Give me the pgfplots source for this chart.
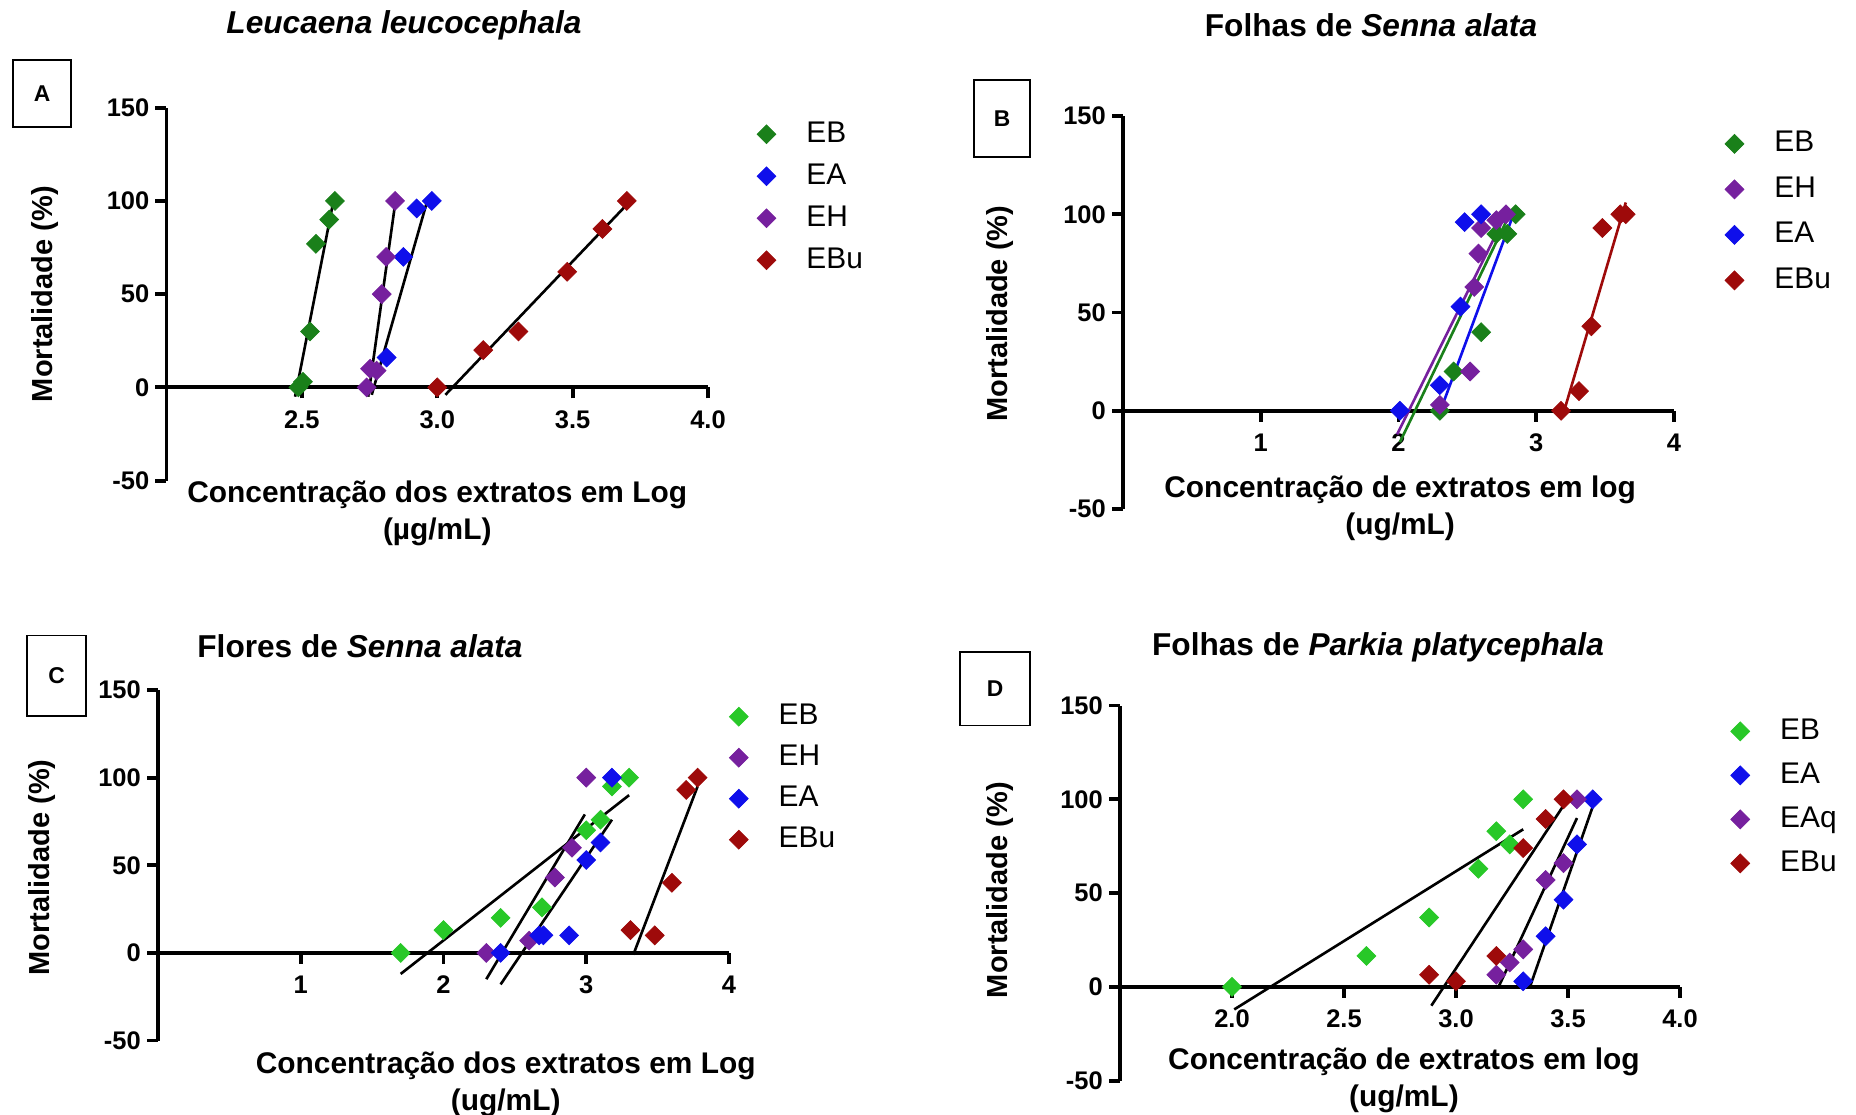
\documentclass[border=0pt]{standalone}
\usepackage{fontspec}
\setmainfont{Liberation Sans}
\usepackage{pgfplots}
\pgfplotsset{compat=1.18}

\definecolor{dgreen}{RGB}{26,128,26}
\definecolor{lgreen}{RGB}{40,200,40}
\definecolor{eblue}{RGB}{15,15,235}
\definecolor{epurple}{RGB}{118,32,158}
\definecolor{dred}{RGB}{158,10,10}

\pgfplotsset{
  gp/.style={
    scale only axis, clip=false,
    axis x line*=middle, axis y line*=left,
    ymin=-50, ymax=150, ytick={-50,0,50,100,150},
    yticklabels={-50,0,50,100,150},
    tick align=outside, major tick length=2.2mm,
    axis line style={line width=2.2pt},
    major tick style={line width=2.2pt, black},
    tick label style={font=\fontsize{14.5}{16}\selectfont\bfseries},
    xticklabel style={yshift=-1.2mm},
    xlabel style={font=\fontsize{17}{21}\selectfont\bfseries, align=center, anchor=north},
    ylabel style={font=\fontsize{16.5}{18}\selectfont\bfseries, anchor=center},
    legend cell align=left,
    legend style={draw=none, fill=none, anchor=north west, inner sep=0pt,
      column sep=5.6mm, font=\fontsize{17}{19}\selectfont,
      nodes={inner sep=0.5mm, text height=4.4mm, text depth=1.2mm}},
  },
  mk/.style={only marks, mark=square*, mark size=3.8pt, color=#1,
    mark options={rotate=45, solid, fill=#1, draw=#1}},
  reg/.style={no marks, line width=1.5pt, color=#1, forget plot},
}

\begin{document}
\begin{tikzpicture}
\path[use as bounding box] (0,0) rectangle (371.2mm,-222.8mm);

% titles
\node[font=\fontsize{18}{20}\selectfont\bfseries\itshape] at (80.8mm,-5mm) {Leucaena leucocephala};
\node[font=\fontsize{18}{20}\selectfont\bfseries] at (274.2mm,-5mm) {Folhas de \textit{Senna alata}};
\node[font=\fontsize{18}{20}\selectfont\bfseries] at (72mm,-129.2mm) {Flores de \textit{Senna alata}};
\node[font=\fontsize{18}{20}\selectfont\bfseries] at (275.6mm,-129.4mm) {Folhas de \textit{Parkia platycephala}};

% panel letters
\draw[line width=0.9pt] (2.6mm,-12mm) rectangle (14.2mm,-25.4mm);
\node[font=\fontsize{13}{15}\selectfont\bfseries] at (8.4mm,-18.7mm) {A};
\draw[line width=0.9pt] (194.8mm,-16mm) rectangle (206mm,-31.4mm);
\node[font=\fontsize{13}{15}\selectfont\bfseries] at (200.4mm,-23.7mm) {B};
\draw[line width=0.9pt] (5.4mm,-127.1mm) rectangle (17.2mm,-143.2mm);
\node[font=\fontsize{13}{15}\selectfont\bfseries] at (11.3mm,-135.1mm) {C};
\draw[line width=0.9pt] (192mm,-130.4mm) rectangle (206mm,-145.1mm);
\node[font=\fontsize{13}{15}\selectfont\bfseries] at (199mm,-137.7mm) {D};

% A: Leucaena leucocephala
\begin{axis}[gp, at={(33.3mm,-96.12mm)}, anchor=south west,
  width=108.3mm, height=74.58mm, xmin=2, xmax=4,
  xtick={2.5,3,3.5,4}, xticklabels={2.5,3.0,3.5,4.0},
  xlabel={Concentração dos extratos em Log\\(µg/mL)},
  ylabel={Mortalidade (\%)},
  xlabel style={at={(axis description cs:0.5,0.017)}},
  ylabel style={at={(axis description cs:-0.224,0.5)}},
  legend style={at={(axis description cs:1.09,0.974)}, row sep=1.8mm}]
\addplot[mk=dgreen] coordinates {(2.487,0) (2.504,3) (2.530,30) (2.552,77) (2.601,90) (2.622,100)};
\addplot[mk=eblue] coordinates {(2.813,16) (2.875,70) (2.924,96) (2.980,100)};
\addplot[mk=epurple] coordinates {(2.739,0) (2.752,10) (2.776,9) (2.795,50) (2.811,70) (2.844,100)};
\addplot[mk=dred] coordinates {(3.00,0) (3.17,20) (3.30,30) (3.48,62) (3.61,85) (3.70,100)};
\addplot[reg=black] coordinates {(2.475,-5) (2.614,98)};
\addplot[reg=black] coordinates {(2.758,-4) (2.965,101)};
\addplot[reg=black] coordinates {(2.745,-5) (2.844,98)};
\addplot[reg=black] coordinates {(3.03,-4) (3.70,98)};
\legend{EB,EA,EH,EBu}
\end{axis}

% B: Folhas de Senna alata
\begin{axis}[gp, at={(224.6mm,-101.8mm)}, anchor=south west,
  width=110.2mm, height=78.6mm, xmin=0, xmax=4,
  xtick={1,2,3,4}, xticklabels={1,2,3,4},
  xlabel={Concentração de extratos em log\\(ug/mL)},
  ylabel={Mortalidade (\%)},
  xlabel style={at={(axis description cs:0.503,0.099)}},
  ylabel style={at={(axis description cs:-0.223,0.497)}},
  legend style={at={(axis description cs:1.092,0.972)}, row sep=2.5mm}]
\addplot[mk=dgreen] coordinates {(2.30,0) (2.40,20) (2.60,40) (2.71,90) (2.79,90) (2.85,100)};
\addplot[mk=epurple] coordinates {(2.30,3) (2.52,20) (2.55,63) (2.58,80) (2.60,93) (2.71,97) (2.78,100)};
\addplot[mk=eblue] coordinates {(2.01,0) (2.30,13) (2.45,53) (2.48,96) (2.60,100)};
\addplot[mk=dred] coordinates {(3.18,0) (3.31,10) (3.40,43) (3.48,93) (3.61,100) (3.65,100)};
\addplot[reg=dgreen] coordinates {(2.01,-16) (2.80,99)};
\addplot[reg=epurple] coordinates {(1.99,-12) (2.78,100)};
\addplot[reg=eblue] coordinates {(2.32,3) (2.84,101)};
\addplot[reg=dred] coordinates {(3.19,-3) (3.65,106)};
\legend{EB,EH,EA,EBu}
\end{axis}

% C: Flores de Senna alata
\begin{axis}[gp, at={(31.6mm,-208.1mm)}, anchor=south west,
  width=114.2mm, height=70.1mm, xmin=0, xmax=4,
  xtick={1,2,3,4}, xticklabels={1,2,3,4},
  xlabel={Concentração dos extratos em Log\\(ug/mL)},
  ylabel={Mortalidade (\%)},
  xlabel style={at={(axis description cs:0.609,-0.014)}},
  ylabel style={at={(axis description cs:-0.204,0.494)}},
  legend style={at={(axis description cs:1.0,0.972)}, row sep=1.6mm}]
\addplot[mk=lgreen] coordinates {(1.70,0) (2.00,13) (2.40,20) (2.69,26) (3.00,70) (3.10,76) (3.18,95) (3.30,100)};
\addplot[mk=epurple] coordinates {(2.30,0) (2.60,7) (2.78,43) (2.90,60) (3.00,100)};
\addplot[mk=eblue] coordinates {(2.40,0) (2.67,10) (2.70,10) (2.88,10) (3.00,53) (3.10,63) (3.18,100)};
\addplot[mk=dred] coordinates {(3.31,13) (3.48,10) (3.60,40) (3.70,93) (3.78,100)};
\addplot[reg=black] coordinates {(1.70,-12) (3.30,90)};
\addplot[reg=black] coordinates {(2.30,-15) (2.99,79)};
\addplot[reg=black] coordinates {(2.40,-18) (3.18,76)};
\addplot[reg=black] coordinates {(3.33,-1) (3.78,95)};
\legend{EB,EH,EA,EBu}
\end{axis}

% D: Folhas de Parkia platycephala
\begin{axis}[gp, at={(224mm,-216.14mm)}, anchor=south west,
  width=112mm, height=75.04mm, xmin=1.5, xmax=4,
  xtick={2,2.5,3,3.5,4}, xticklabels={2.0,2.5,3.0,3.5,4.0},
  xlabel={Concentração de extratos em log\\(ug/mL)},
  ylabel={Mortalidade (\%)},
  xlabel style={at={(axis description cs:0.507,0.105)}},
  ylabel style={at={(axis description cs:-0.214,0.508)}},
  legend style={at={(axis description cs:1.09,0.976)}, row sep=2.2mm}]
\addplot[mk=lgreen] coordinates {(2.00,0) (2.60,16.5) (2.88,37) (3.10,63) (3.18,83) (3.24,76) (3.30,100)};
\addplot[mk=eblue] coordinates {(3.30,3) (3.40,27) (3.48,46.5) (3.54,76) (3.61,100)};
\addplot[mk=epurple] coordinates {(3.18,6.5) (3.24,13) (3.30,20) (3.40,57) (3.48,66) (3.54,100)};
\addplot[mk=dred] coordinates {(2.88,6.5) (3.00,3) (3.18,16.5) (3.30,74) (3.40,89.5) (3.48,100)};
\addplot[reg=black] coordinates {(2.01,-12) (3.30,84)};
\addplot[reg=black] coordinates {(3.33,0) (3.61,96)};
\addplot[reg=black] coordinates {(3.19,0) (3.54,90)};
\addplot[reg=black] coordinates {(2.89,-10) (3.49,98.5)};
\legend{EB,EA,EAq,EBu}
\end{axis}
\end{tikzpicture}
\end{document}
